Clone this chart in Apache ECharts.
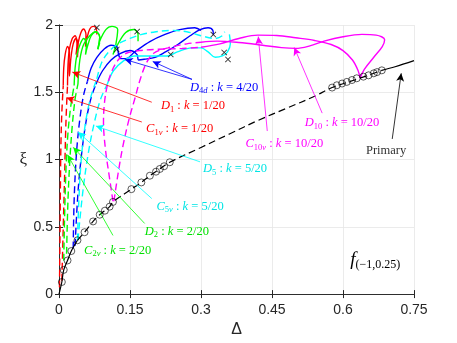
<!DOCTYPE html>
<html>
<head>
<meta charset="utf-8">
<script src="https://cdn.jsdelivr.net/npm/echarts@6/dist/echarts.min.js"></script>
<style>
    html, body { margin: 0; padding: 0; background: #fff; }
    #main { width: 457px; height: 343px; }
</style>
</head>
<body>
<div id="main"></div>
<script>
(function(){
    // 坐标轴刻度
    var xTicks = [0, 0.15, 0.3, 0.45, 0.6, 0.75];
    var yTicks = [0, 0.5, 1, 1.5, 2];

    // primary branch (Δ, ξ)
    var primaryLow = [[0,0],[0.006,0.09],[0.010,0.18],[0.018,0.25],[0.026,0.32],[0.039,0.40]];
    var primaryMid = [[0.039,0.40],[0.054,0.46],[0.072,0.54],[0.086,0.59],[0.107,0.65],[0.114,0.685],[0.153,0.78],
        [0.174,0.83],[0.192,0.88],[0.213,0.93],[0.234,0.98],[0.30,1.09],[0.36,1.19],[0.42,1.29],[0.48,1.38],
        [0.54,1.47],[0.577,1.535],[0.636,1.605],[0.682,1.663]];
    var primaryHigh = [[0.682,1.663],[0.71,1.69],[0.75,1.735]];
    var primaryDots = [[0.006,0.09],[0.010,0.18],[0.018,0.25],[0.026,0.32],[0.039,0.40],[0.054,0.46],[0.072,0.54],
        [0.086,0.59],[0.097,0.62],[0.107,0.65],[0.114,0.685],[0.153,0.78],[0.174,0.83],[0.192,0.88],[0.205,0.91],
        [0.213,0.93],[0.222,0.95],[0.234,0.98],[0.577,1.535],[0.587,1.552],[0.598,1.565],[0.608,1.577],
        [0.619,1.591],[0.629,1.604],[0.643,1.616],[0.654,1.626],[0.665,1.641],[0.672,1.650],[0.682,1.663]];
    var endMarks = [[0.080,1.981],[0.122,1.818],[0.165,1.951],[0.236,1.781],[0.326,1.929],[0.349,1.796],[0.357,1.744]];

    // k = 1/20 (red)
    var redDashC = [[0.001,0.05],[0.002,0.4],[0.003,0.8],[0.004,1.1],[0.006,1.35],[0.009,1.55]];
    var redDashD = [[0.006,0.1],[0.009,0.5],[0.012,0.9],[0.014,1.2],[0.016,1.4],[0.018,1.55]];
    var redSolidC = [[0.009,1.55],[0.010,1.68],[0.013,1.78],[0.018,1.84],[0.022,1.8],[0.021,1.7],[0.022,1.62],
        [0.025,1.75],[0.030,1.86],[0.036,1.9],[0.040,1.85],[0.039,1.76]];
    var redSolidD = [[0.018,1.55],[0.019,1.7],[0.022,1.82],[0.028,1.9],[0.034,1.92],[0.038,1.86],[0.036,1.78],
        [0.040,1.86],[0.046,1.94],[0.052,1.97],[0.057,1.93],[0.056,1.84],[0.059,1.9],[0.065,1.97],[0.072,1.99],
        [0.078,1.98],[0.080,1.93]];

    // k = 2/20 (green)
    var greenDashC = [[0.010,0.25],[0.012,0.6],[0.015,0.95],[0.019,1.2],[0.025,1.4],[0.032,1.55]];
    var greenDashD = [[0.016,0.3],[0.019,0.7],[0.023,1.0],[0.028,1.25],[0.034,1.45],[0.040,1.56]];
    var greenSolidC = [[0.032,1.55],[0.034,1.68],[0.038,1.78],[0.045,1.86],[0.052,1.9],[0.058,1.86],[0.056,1.78],
        [0.060,1.84],[0.068,1.92],[0.078,1.95],[0.086,1.91],[0.082,1.82],[0.086,1.87]];
    var greenSolidD = [[0.040,1.56],[0.044,1.74],[0.052,1.855],[0.065,1.92],[0.078,1.95],[0.086,1.91],[0.082,1.82],
        [0.086,1.88],[0.099,1.966],[0.112,1.99],[0.124,1.966],[0.120,1.855],[0.114,1.78],[0.124,1.855],
        [0.141,1.944],[0.158,1.966],[0.167,1.93],[0.167,1.88]];

    // k = 4/20 (blue)
    var blueDashC = [[0.030,0.34],[0.032,0.7],[0.037,1.05],[0.044,1.3],[0.052,1.48],[0.060,1.58]];
    var blueDashD = [[0.034,0.36],[0.040,0.75],[0.048,1.05],[0.058,1.3],[0.068,1.46],[0.078,1.56]];
    var blueSolidC = [[0.060,1.58],[0.068,1.68],[0.080,1.76],[0.095,1.82],[0.110,1.85],[0.122,1.84],[0.126,1.78],
        [0.130,1.75],[0.141,1.75],[0.160,1.80],[0.192,1.877],[0.224,1.93],[0.255,1.966],[0.287,1.98],[0.300,1.96]];
    var blueSolidD = [[0.078,1.56],[0.092,1.66],[0.110,1.74],[0.130,1.79],[0.150,1.81],[0.165,1.78],[0.168,1.74],
        [0.180,1.745],[0.203,1.76],[0.225,1.8],[0.251,1.855],[0.277,1.92],[0.298,1.966],[0.315,1.98],
        [0.325,1.96],[0.326,1.93]];

    // k = 5/20 (cyan)
    var cyanDashC = [[0.039,0.40],[0.042,0.7],[0.047,1.0],[0.055,1.25],[0.066,1.45],[0.080,1.6]];
    var cyanDashD = [[0.040,0.40],[0.050,0.75],[0.062,1.05],[0.075,1.28],[0.088,1.45],[0.102,1.56]];
    var cyanUpper = [[0.080,1.6],[0.090,1.72],[0.105,1.8],[0.125,1.86],[0.150,1.9],[0.175,1.93],[0.205,1.95],
        [0.240,1.96],[0.270,1.95],[0.300,1.92],[0.330,1.9],[0.345,1.92],[0.350,1.95]];
    var cyanLower = [[0.102,1.56],[0.115,1.66],[0.135,1.73],[0.160,1.77],[0.185,1.77],[0.210,1.77],[0.228,1.77],
        [0.250,1.80],[0.280,1.83],[0.300,1.83],[0.315,1.80],[0.330,1.76],[0.345,1.77],[0.356,1.80],
        [0.362,1.86],[0.360,1.93]];

    // k = 10/20 (magenta)
    var magDashC = [[0.114,0.69],[0.106,0.88],[0.098,1.08],[0.094,1.28],[0.096,1.42],[0.102,1.55],[0.112,1.66],
        [0.125,1.74],[0.142,1.79],[0.17,1.81],[0.21,1.82],[0.26,1.825],[0.30,1.835]];
    var magDashD = [[0.116,0.69],[0.125,0.9],[0.135,1.1],[0.148,1.3],[0.160,1.45],[0.172,1.6],[0.185,1.72],
        [0.200,1.79],[0.23,1.83],[0.27,1.86],[0.30,1.872]];
    var magSolidC = [[0.30,1.835],[0.34,1.86],[0.38,1.9],[0.42,1.925],[0.46,1.922],[0.50,1.905],[0.54,1.885],
        [0.575,1.855],[0.60,1.81],[0.62,1.74],[0.632,1.66],[0.636,1.605]];
    var magSolidD = [[0.30,1.872],[0.334,1.88],[0.38,1.87],[0.43,1.85],[0.47,1.832],[0.50,1.826],[0.53,1.845],
        [0.56,1.88],[0.60,1.913],[0.64,1.93],[0.67,1.925],[0.688,1.89],[0.683,1.84],[0.665,1.76],[0.645,1.67],
        [0.636,1.605]];

    // 标注：文字、位置、颜色、箭头
    var noteText = [
        '{i|D}{s|4}{si|d}{r| : }{i|k}{r| = 4/20}',
        '{i|D}{s|1}{r| : }{i|k}{r| = 1/20}',
        '{i|C}{s|1}{si|v}{r| : }{i|k}{r| = 1/20}',
        '{i|D}{s|5}{r| : }{i|k}{r| = 5/20}',
        '{i|C}{s|5}{si|v}{r| : }{i|k}{r| = 5/20}',
        '{i|D}{s|2}{r| : }{i|k}{r| = 2/20}',
        '{i|C}{s|2}{si|v}{r| : }{i|k}{r| = 2/20}',
        '{i|C}{s|10}{si|v}{r| : }{i|k}{r| = 10/20}',
        '{i|D}{s|10}{r| : }{i|k}{r| = 10/20}',
        '{r|Primary}',
        '{f|f}{fs|(−1,0.25)}'
    ];
    var notePos = [[0.349,1.537],[0.283,1.397],[0.255,1.227],[0.372,0.931],[0.277,0.650],[0.249,0.466],
        [0.124,0.325],[0.476,1.116],[0.598,1.271],[0.691,1.064],[0.668,0.251]];
    var noteColor = ['#0000ff','#ff0000','#ff0000','#00e5e5','#00e5e5','#00e000','#00e000','#ff00ff','#ff00ff','#333333','#000000'];
    var arrowFrom = [[0.281,1.596],[0.281,1.596],[0.196,1.426],[0.175,1.279],[0.298,0.983],[0.196,0.710],
        [0.181,0.525],[0.114,0.436],[0.440,1.212],[0.556,1.345],[0.704,1.153]];
    var arrowTo = [[0.139,1.744],[0.198,1.729],[0.028,1.650],[0.016,1.460],[0.078,1.249],[0.040,1.205],
        [0.030,1.091],[0.018,1.035],[0.421,1.914],[0.497,1.833],[0.723,1.641]];
    var arrowColor = ['#0000ff','#0000ff','#ff0000','#ff0000','#00ffff','#00ffff','#00ff00','#00ff00','#ff00ff','#ff00ff','#000000'];

    var RED = '#ff0000', GREEN = '#00ff00', BLUE = '#0000ff', CYAN = '#00ffff', MAG = '#ff00ff';

    function curve(data, color, dashed, width) {
        return {
            type: 'line',
            data: data,
            showSymbol: false,
            smooth: 0.35,
            silent: true,
            lineStyle: {
                color: color,
                width: width || 1.4,
                type: dashed ? [7, 4] : 'solid'
            }
        };
    }

    var marks = [];
    for (var a = 0; a < arrowFrom.length; a++) {
        marks.push([
            { coord: arrowFrom[a], lineStyle: { color: arrowColor[a] } },
            { coord: arrowTo[a], lineStyle: { color: arrowColor[a] } }
        ]);
    }

    var series = [
        curve(redDashC, RED, true), curve(redDashD, RED, true),
        curve(redSolidC, RED, false), curve(redSolidD, RED, false),
        curve(greenDashC, GREEN, true), curve(greenDashD, GREEN, true),
        curve(greenSolidC, GREEN, false), curve(greenSolidD, GREEN, false),
        curve(blueDashC, BLUE, true), curve(blueDashD, BLUE, true),
        curve(blueSolidC, BLUE, false), curve(blueSolidD, BLUE, false),
        curve(cyanDashC, CYAN, true), curve(cyanDashD, CYAN, true),
        curve(cyanUpper, CYAN, true), curve(cyanLower, CYAN, false),
        curve(magDashC, MAG, true), curve(magDashD, MAG, true),
        curve(magSolidC, MAG, false), curve(magSolidD, MAG, false),
        curve(primaryLow, '#000', false, 1.2),
        curve(primaryMid, '#000', true, 1.2),
        curve(primaryHigh, '#000', false, 1.2)
    ];
    // 箭头
    series[series.length - 1].markLine = {
        silent: true,
        animation: false,
        symbol: ['none', 'arrow'],
        symbolSize: [6, 8],
        label: { show: false },
        lineStyle: { type: 'solid', width: 0.8 },
        data: marks
    };
    series.push({
        type: 'scatter',
        data: primaryDots,
        symbol: 'circle',
        symbolSize: 7,
        silent: true,
        itemStyle: { color: 'none', borderColor: '#000', borderWidth: 0.8 },
        z: 5
    });
    series.push({
        type: 'scatter',
        data: endMarks,
        symbol: 'path://M0,1L1,0L5,4L9,0L10,1L6,5L10,9L9,10L5,6L1,10L0,9L4,5Z',
        symbolSize: 6,
        silent: true,
        itemStyle: { color: '#000' },
        z: 6
    });

    var axisColor = '#262626';
    var tickFont = { color: axisColor, fontFamily: 'Liberation Sans', fontSize: 14 };

    function $label(font, margin, fmt) {
        var o = { color: font.color, fontFamily: font.fontFamily, fontSize: font.fontSize, margin: margin };
        if (fmt) o.formatter = fmt;
        return o;
    }

    var option = {
        animation: false,
        backgroundColor: '#fff',
        grid: { left: 59, right: 43, top: 25, bottom: 47 },
        xAxis: [{
            type: 'value', min: xTicks[0], max: xTicks[xTicks.length - 1], interval: 0.15,
            name: 'Δ', nameLocation: 'middle', nameGap: 21,
            nameTextStyle: { color: axisColor, fontFamily: 'Liberation Sans', fontSize: 16 },
            axisLine: { lineStyle: { color: axisColor, width: 0.8 } },
            axisTick: { inside: true, length: 4, lineStyle: { color: axisColor } },
            axisLabel: $label(tickFont, 9, function(v){ return String(+v.toFixed(2)); }),
            splitLine: { show: true, lineStyle: { color: '#e6e6e6', width: 0.8 } }
        }, {
            type: 'value', position: 'top', min: xTicks[0], max: xTicks[xTicks.length - 1], interval: 0.15,
            axisLine: { lineStyle: { color: axisColor, width: 0.8 } },
            axisTick: { inside: true, length: 4, lineStyle: { color: axisColor } },
            axisLabel: { show: false }, splitLine: { show: false }
        }],
        yAxis: [{
            type: 'value', min: yTicks[0], max: yTicks[yTicks.length - 1], interval: 0.5,
            name: 'ξ', nameLocation: 'middle', nameGap: 32, nameRotate: 0,
            nameTextStyle: { color: axisColor, fontFamily: 'Liberation Serif', fontSize: 17 },
            axisLine: { show: true, lineStyle: { color: axisColor, width: 0.8 } },
            axisTick: { show: true, inside: true, length: 4, lineStyle: { color: axisColor } },
            axisLabel: $label(tickFont, 6, null),
            splitLine: { show: true, lineStyle: { color: '#e6e6e6', width: 0.8 } }
        }, {
            type: 'value', position: 'right', min: yTicks[0], max: yTicks[yTicks.length - 1], interval: 0.5,
            axisLine: { show: true, lineStyle: { color: axisColor, width: 0.8 } },
            axisTick: { show: true, inside: true, length: 4, lineStyle: { color: axisColor } },
            axisLabel: { show: false }, splitLine: { show: false }
        }],
        series: series
    };

    var chart = echarts.init(document.getElementById('main'), null, { renderer: 'canvas' });
    chart.setOption(option);

    // 文字标注
    var serif = 'Liberation Serif';
    var rich = {
        i: { fontFamily: serif, fontStyle: 'italic', fontSize: 12.5, lineHeight: 16 },
        r: { fontFamily: serif, fontSize: 12.5, lineHeight: 16 },
        s: { fontFamily: serif, fontSize: 8.5, lineHeight: 9, verticalAlign: 'bottom' },
        si: { fontFamily: serif, fontStyle: 'italic', fontSize: 8.5, lineHeight: 9, verticalAlign: 'bottom' },
        f: { fontFamily: serif, fontStyle: 'italic', fontSize: 19, lineHeight: 22 },
        fs: { fontFamily: serif, fontSize: 12, lineHeight: 12, verticalAlign: 'bottom' }
    };
    var texts = [];
    for (var n = 0; n < noteText.length; n++) {
        var p = chart.convertToPixel({ gridIndex: 0 }, notePos[n]);
        texts.push({
            type: 'text',
            x: p[0], y: p[1],
            silent: true,
            z: 10,
            style: {
                text: noteText[n],
                rich: rich,
                fill: noteColor[n],
                align: 'center',
                verticalAlign: 'middle'
            }
        });
    }
    chart.setOption({ graphic: texts });
})();
</script>
</body>
</html>
